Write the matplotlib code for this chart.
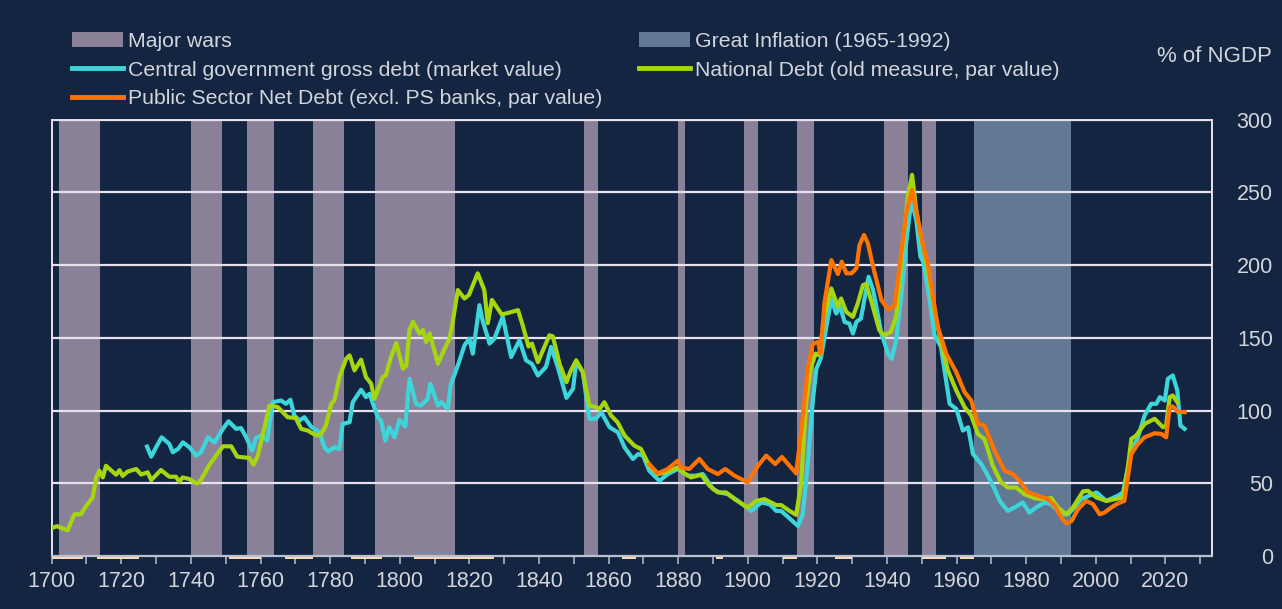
import matplotlib.pyplot as plt
from matplotlib.patches import Patch
from matplotlib.lines import Line2D

plt.rcParams['font.family'] = ['Liberation Sans', 'DejaVu Sans']

# colours
bg = '#132540'
txt_c = '#D2D5DC'
grid_c = '#E8E1EF'
war_c = '#8A8198'
infl_c = '#627893'
cyan_c = '#3CD6DA'
green_c = '#A5D610'
orange_c = '#FF7300'
tan_c = '#FFDDB8'

# periods (first year, last year)
wars = [(1702, 1713), (1740, 1748), (1756, 1763), (1775, 1783), (1793, 1815),
        (1853, 1856), (1880, 1881), (1899, 1902), (1914, 1918), (1939, 1945),
        (1950, 1953)]
great_inflation = (1965, 1992)
tan_marks = [(1700, 1709), (1713, 1725), (1751, 1760), (1767, 1775), (1786, 1795),
             (1804, 1827), (1864, 1868), (1891, 1893), (1910, 1914), (1925, 1930),
             (1950, 1957), (1961, 1965)]

# National Debt (old measure, par value), % of NGDP
nd_year = [1700.3, 1701.5, 1704.6, 1706.5, 1708.4, 1709.9, 1711.8, 1712.8, 1713.7, 1714.7,
           1715.6, 1718.5, 1719.5, 1720.4, 1721.8, 1724.3, 1725.7, 1727.6, 1728.6, 1731.4,
           1733.8, 1735.7, 1736.7, 1737.6, 1739.6, 1741.5, 1742.4, 1745.8, 1749.2, 1751.6,
           1753.3, 1756.8, 1758.0, 1759.2, 1762.6, 1765.0, 1767.8, 1770.1, 1771.7, 1773.6,
           1776.0, 1777.4, 1778.8, 1780.3, 1781.2, 1782.7, 1784.6, 1785.6, 1787.0, 1788.9,
           1790.3, 1791.8, 1792.7, 1795.1, 1796.0, 1797.5, 1799.0, 1800.9, 1801.9, 1802.8,
           1803.8, 1805.7, 1806.7, 1807.6, 1808.6, 1811.0, 1812.9, 1814.3, 1815.3, 1816.7,
           1818.6, 1819.9, 1822.4, 1824.3, 1825.3, 1826.5, 1829.3, 1831.0, 1834.0, 1835.4,
           1837.0, 1838.0, 1839.7, 1843.0, 1844.0, 1845.9, 1847.9, 1849.1, 1850.7, 1852.6,
           1854.5, 1856.4, 1857.4, 1858.8, 1860.7, 1862.6, 1864.6, 1867.4, 1869.3, 1871.7,
           1874.1, 1877.0, 1879.9, 1881.4, 1883.7, 1886.6, 1889.0, 1891.4, 1893.8, 1896.2,
           1900.0, 1902.4, 1904.8, 1908.2, 1909.6, 1912.0, 1913.9, 1915.3, 1916.8, 1918.2,
           1919.5, 1920.5, 1922.0, 1924.0, 1925.9, 1926.8, 1928.3, 1930.2, 1931.6, 1933.1,
           1934.0, 1935.4, 1937.8, 1939.2, 1941.1, 1942.6, 1944.5, 1946.0, 1947.2, 1948.4,
           1949.7, 1951.7, 1953.6, 1955.5, 1957.5, 1959.9, 1962.3, 1964.2, 1966.1, 1968.0,
           1970.4, 1972.8, 1974.7, 1977.1, 1979.5, 1982.4, 1984.8, 1987.2, 1989.1, 1991.5,
           1993.4, 1996.3, 1997.7, 2000.2, 2003.0, 2005.4, 2007.8, 2009.2, 2010.2, 2011.6,
           2014.0, 2016.9, 2019.3, 2020.2, 2021.2, 2022.1, 2023.4]
nd_val = [19.5, 20.5, 17.7, 28.7, 28.7, 34.5, 40.2, 54.0, 58.6, 54.0,
          62.0, 55.9, 59.0, 55.0, 58.0, 59.8, 56.0, 57.5, 52.2, 59.1,
          54.5, 54.5, 51.0, 54.0, 52.9, 49.9, 50.5, 64.4, 75.4, 75.4,
          68.3, 67.4, 62.7, 68.7, 103.4, 102.3, 95.4, 94.9, 87.4, 86.2,
          82.8, 83.9, 89.7, 104.6, 106.9, 123.0, 135.6, 137.9, 127.6, 134.9,
          123.0, 118.4, 108.0, 123.0, 124.1, 136.8, 146.4, 128.7, 131.0, 155.2,
          160.9, 152.9, 155.2, 147.1, 152.9, 132.2, 142.5, 149.4, 162.0, 182.8,
          177.0, 179.5, 194.3, 182.8, 160.0, 176.0, 166.0, 167.0, 169.0, 158.0,
          144.0, 146.0, 133.3, 151.7, 151.0, 132.2, 119.5, 127.1, 134.5, 126.4,
          103.4, 102.3, 101.0, 105.7, 96.6, 91.9, 82.8, 75.9, 73.6, 62.0,
          56.3, 57.9, 61.0, 57.4, 54.0, 55.9, 48.3, 43.7, 43.7, 39.1,
          33.3, 37.9, 39.1, 35.0, 35.0, 31.0, 28.3, 49.4, 106.9, 129.9,
          139.1, 138.0, 165.0, 183.9, 171.3, 177.0, 167.8, 164.4, 173.6, 186.2,
          187.0, 175.9, 155.2, 151.7, 154.0, 164.4, 212.6, 247.1, 262.0, 237.9,
          219.5, 196.6, 169.0, 147.0, 127.6, 113.8, 102.3, 96.6, 83.9, 80.5,
          62.0, 50.6, 47.1, 47.1, 42.5, 39.8, 39.1, 39.8, 33.3, 28.7,
          33.3, 44.4, 44.8, 40.2, 37.9, 39.1, 40.2, 60.9, 80.5, 82.8,
          90.8, 94.3, 88.5, 89.7, 109.2, 110.3, 105.7]

# Central government gross debt (market value), % of NGDP
cg_year = [1727.4, 1728.6, 1730.0, 1731.6, 1733.8, 1734.8, 1736.3, 1737.7, 1739.6, 1741.5,
           1742.9, 1744.9, 1746.8, 1749.2, 1750.8, 1753.0, 1754.4, 1755.9, 1757.6, 1758.7,
           1760.2, 1761.9, 1763.5, 1765.9, 1767.3, 1768.6, 1769.7, 1771.2, 1772.6, 1774.5,
           1776.9, 1778.4, 1779.5, 1781.2, 1782.7, 1783.6, 1785.6, 1786.5, 1788.9, 1790.3,
           1791.3, 1793.7, 1794.6, 1795.9, 1797.0, 1798.5, 1799.9, 1801.6, 1802.8, 1804.7,
           1806.1, 1808.0, 1808.8, 1811.0, 1812.0, 1813.8, 1814.6, 1816.7, 1818.6, 1820.0,
           1821.0, 1822.9, 1823.8, 1825.8, 1827.2, 1829.6, 1832.0, 1834.4, 1836.3, 1838.0,
           1839.7, 1842.0, 1843.5, 1845.4, 1847.9, 1849.8, 1850.7, 1852.6, 1854.5, 1856.4,
           1857.9, 1860.3, 1862.7, 1864.6, 1867.0, 1868.5, 1869.9, 1871.7, 1874.6, 1877.0,
           1879.9, 1882.8, 1885.2, 1887.1, 1890.0, 1891.9, 1894.3, 1897.2, 1901.0, 1903.9,
           1906.3, 1908.2, 1909.6, 1911.5, 1914.4, 1915.8, 1917.3, 1918.7, 1919.7, 1921.0,
           1924.0, 1925.4, 1926.6, 1927.8, 1929.2, 1930.2, 1931.2, 1932.5, 1934.7, 1936.0,
           1938.4, 1940.3, 1941.3, 1942.6, 1944.1, 1945.5, 1947.0, 1948.4, 1949.6, 1950.4,
           1952.2, 1953.6, 1955.5, 1958.0, 1959.9, 1961.8, 1963.3, 1964.7, 1967.1, 1969.0,
           1970.9, 1972.4, 1974.7, 1976.6, 1979.0, 1980.9, 1982.8, 1985.3, 1987.2, 1990.1,
           1992.0, 1993.9, 1995.8, 2000.2, 2003.0, 2006.3, 2007.8, 2010.2, 2012.1, 2014.0,
           2015.9, 2017.4, 2018.4, 2019.8, 2020.7, 2022.1, 2023.4, 2024.3, 2025.5]
cg_val = [75.2, 68.3, 74.7, 81.6, 77.0, 71.3, 73.6, 78.1, 74.7, 69.0,
          71.3, 81.6, 78.1, 87.4, 92.6, 87.4, 88.0, 81.6, 72.4, 81.1,
          82.8, 79.3, 105.7, 106.9, 104.6, 107.4, 96.6, 93.1, 95.4, 89.0,
          85.0, 74.7, 71.9, 74.7, 73.6, 90.8, 92.0, 105.7, 114.3, 109.2,
          111.5, 95.4, 93.1, 79.3, 88.5, 81.6, 93.6, 89.0, 121.8, 104.6,
          103.4, 107.9, 118.4, 103.4, 105.7, 101.1, 117.2, 131.0, 144.8, 149.4,
          139.1, 172.4, 162.0, 146.0, 149.4, 164.4, 136.8, 148.3, 134.5, 132.0,
          124.1, 129.9, 143.7, 130.0, 108.7, 115.0, 133.3, 126.4, 94.3, 94.3,
          98.9, 88.5, 85.0, 74.7, 66.7, 70.1, 69.0, 58.6, 51.7, 56.3,
          59.8, 55.2, 55.2, 56.3, 46.0, 43.7, 42.5, 37.9, 31.0, 36.8,
          35.6, 31.0, 31.0, 26.9, 20.7, 28.7, 65.5, 106.9, 128.7, 136.0,
          177.0, 166.7, 171.3, 160.9, 159.8, 152.9, 160.9, 163.2, 191.9, 182.8,
          152.9, 139.1, 135.6, 148.3, 178.1, 215.0, 244.8, 231.0, 205.7, 202.3,
          177.0, 152.0, 143.7, 104.6, 101.1, 86.2, 88.5, 70.1, 63.2, 55.2,
          46.0, 37.9, 31.0, 33.3, 36.8, 29.9, 33.3, 36.8, 35.6, 28.7,
          28.7, 33.3, 39.1, 43.7, 37.9, 41.4, 43.7, 72.4, 81.6, 96.6,
          104.6, 104.6, 109.2, 106.9, 121.8, 124.1, 113.8, 89.7, 87.4]

# Public Sector Net Debt (excl. PS banks, par value), % of NGDP
psnd_year = [1871.7, 1874.1, 1877.0, 1879.9, 1880.8, 1883.2, 1886.1, 1888.5, 1891.4, 1893.5,
             1896.2, 1900.0, 1902.9, 1905.3, 1907.9, 1909.8, 1913.9, 1915.8, 1917.3, 1918.7,
             1920.2, 1920.9, 1922.0, 1924.0, 1925.9, 1927.0, 1928.3, 1929.8, 1931.2, 1932.1,
             1933.4, 1934.5, 1936.0, 1938.4, 1940.3, 1942.2, 1943.6, 1945.5, 1947.2, 1948.9,
             1950.3, 1951.7, 1953.2, 1954.6, 1957.0, 1959.9, 1962.3, 1964.2, 1966.1, 1968.0,
             1970.9, 1973.8, 1976.2, 1978.1, 1980.5, 1983.4, 1986.2, 1988.2, 1990.1, 1991.5,
             1993.0, 1994.9, 1997.2, 1999.2, 2001.1, 2002.5, 2004.4, 2006.3, 2008.2, 2010.2,
             2012.1, 2014.0, 2016.9, 2018.8, 2020.2, 2021.2, 2022.1, 2023.6, 2025.5]
psnd_val = [63.2, 56.8, 59.8, 65.5, 60.9, 59.8, 66.7, 59.8, 56.3, 59.8,
            55.2, 50.6, 62.0, 69.0, 63.2, 68.1, 56.8, 95.4, 129.9, 146.0,
            147.1, 139.1, 173.6, 203.4, 193.8, 202.3, 194.3, 194.3, 197.7, 213.8,
            220.7, 215.0, 198.9, 175.9, 169.4, 172.4, 198.9, 235.6, 251.7, 231.0,
            213.8, 201.1, 178.1, 157.5, 139.1, 126.4, 112.6, 106.9, 90.8, 89.7,
            72.4, 58.6, 56.3, 51.7, 43.7, 41.4, 39.1, 34.5, 26.4, 22.3,
            24.0, 32.2, 37.9, 35.6, 28.7, 29.9, 33.3, 36.1, 37.9, 70.1,
            77.0, 81.6, 84.4, 83.9, 81.6, 102.3, 102.8, 98.9, 98.9]

fig = plt.figure(figsize=(12.82, 6.09), dpi=100, facecolor=bg)
ax = fig.add_axes([0.0403, 0.0870, 0.9049, 0.7167], facecolor=bg)

for s, e in wars:
    ax.axvspan(s, e + 1, color=war_c, lw=0, zorder=0.2)
ax.axvspan(great_inflation[0], great_inflation[1] + 1, color=infl_c, lw=0, zorder=0.2)

ax.set_xlim(1700, 2033.3)
ax.set_ylim(0, 300)

# horizontal grid over the shaded bands
for y in range(50, 301, 50):
    ax.axhline(y, color=grid_c, lw=1.6, zorder=1)

ax.plot(cg_year, cg_val, color=cyan_c, lw=3.0, zorder=3)
ax.plot(nd_year, nd_val, color=green_c, lw=3.0, zorder=3)
ax.plot(psnd_year, psnd_val, color=orange_c, lw=3.0, zorder=4)

# small marks just under the axis
for s, e in tan_marks:
    ax.plot([s, e], [-1.6, -1.6], color=tan_c, lw=1.4, clip_on=False, zorder=5,
            solid_capstyle='butt')

for side in ['left', 'top', 'right']:
    ax.spines[side].set_color(grid_c)
    ax.spines[side].set_linewidth(1.4)
ax.spines['bottom'].set_color('#B9C1D0')
ax.spines['bottom'].set_linewidth(1.6)

ax.set_xticks(range(1700, 2021, 20))
ax.set_xticks(range(1710, 2031, 20), minor=True)
ax.tick_params(axis='x', which='both', direction='out', length=6, width=1.2,
               color='#A9B4C6', labelsize=15.5, labelcolor=txt_c, pad=5)

ax.yaxis.tick_right()
ax.set_yticks(range(0, 301, 50))
ax.tick_params(axis='y', length=0, labelsize=15.5, labelcolor=txt_c, pad=44)
for lbl in ax.get_yticklabels():
    lbl.set_horizontalalignment('right')

handles = [Patch(facecolor=war_c, edgecolor='none'),
           Line2D([], [], color=cyan_c, lw=3.5),
           Line2D([], [], color=orange_c, lw=3.5),
           Patch(facecolor=infl_c, edgecolor='none'),
           Line2D([], [], color=green_c, lw=3.5)]
labels = ['Major wars',
          'Central government gross debt (market value)',
          'Public Sector Net Debt (excl. PS banks, par value)',
          'Great Inflation (1965-1992)',
          'National Debt (old measure, par value)']
leg = fig.legend(handles, labels, ncol=2, loc='upper left',
                 bbox_to_anchor=(0.0562, 0.947), frameon=False, fontsize=15.3,
                 handlelength=2.4, handletextpad=0.25, columnspacing=1.7,
                 labelspacing=0.45, borderpad=0, borderaxespad=0)
for t in leg.get_texts():
    t.set_color(txt_c)

fig.text(1272 / 1282, 1 - 56 / 609, '% of NGDP', ha='right', va='center',
         fontsize=16, color=txt_c)

fig.savefig('out.png', dpi=100, facecolor=bg)
